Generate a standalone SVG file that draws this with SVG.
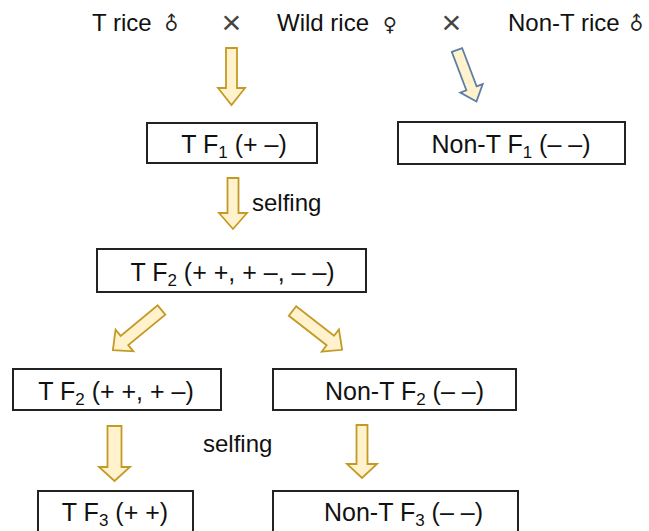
<svg xmlns="http://www.w3.org/2000/svg" width="649" height="531" viewBox="0 0 649 531">
  <style>
    .t { font-family: "Liberation Sans", Arial, sans-serif; font-size: 24px; fill: #111; }
    .bt { font-family: "Liberation Sans", Arial, sans-serif; font-size: 25px; fill: #111; }
    .sym { font-family: "DejaVu Sans", sans-serif; font-size: 19px; fill: #222; }
    .x { font-family: "Liberation Sans", Arial, sans-serif; font-size: 34px; fill: #444; }
    .box { fill: #fff; stroke: #222; stroke-width: 2; }
    .arr { fill: #FFF2CC; stroke: #C49A26; stroke-width: 1.8; stroke-linejoin: miter; }
    .arr-b { fill: #FFF2CC; stroke: #5B7FA8; stroke-width: 1.8; stroke-linejoin: miter; }
  </style>
  <rect width="649" height="531" fill="#fff"/>

  <!-- cross parents -->
  <g id="parents">
    <text class="t" x="92" y="31">T rice</text>
    <text class="sym" transform="translate(171,23) rotate(-45)" text-anchor="middle" dominant-baseline="central">♂</text>
    <text class="x" x="231.5" y="34" text-anchor="middle">×</text>
    <text class="t" x="277" y="31">Wild rice</text>
    <text class="sym" x="390" y="31" text-anchor="middle">♀</text>
    <text class="x" x="451.5" y="34" text-anchor="middle">×</text>
    <text class="t" x="508" y="31">Non-T rice</text>
    <text class="sym" transform="translate(636,23) rotate(-45)" text-anchor="middle" dominant-baseline="central">♂</text>
  </g>

  <!-- connectors: block arrows -->
  <g id="connectors">
    <path class="arr" transform="translate(231.5,48)" d="M-5.5,0 H5.5 V40 H13.5 L0,57 L-13.5,40 H-5.5 Z"/>
    <path class="arr-b" transform="translate(457,50) rotate(-20.7)" d="M-5.5,0 H5.5 V41 H12 L0,55 L-12,41 H-5.5 Z"/>
    <path class="arr" transform="translate(233,178)" d="M-5.5,0 H5.5 V35 H14 L0,51 L-14,35 H-5.5 Z"/>
    <path class="arr" transform="translate(161.5,310) rotate(50.5)" d="M-6,0 H6 V48 H14 L0,63 L-14,48 H-6 Z"/>
    <path class="arr" transform="translate(292.5,311) rotate(-52)" d="M-6,0 H6 V48 H14 L0,63 L-14,48 H-6 Z"/>
    <path class="arr" transform="translate(114.5,426)" d="M-7,0 H7 V41 H15.5 L0,55 L-15.5,41 H-7 Z"/>
    <path class="arr" transform="translate(362,425)" d="M-5.5,0 H5.5 V39 H15 L0,53 L-15,39 H-5.5 Z"/>
    <text class="t" x="252" y="211">selfing</text>
    <text class="t" x="203" y="452">selfing</text>
  </g>

  <g id="tf1">
    <rect class="box" x="147" y="123" width="170" height="40"/>
    <text class="bt" x="234" y="153" text-anchor="middle">T F<tspan font-size="17" dy="5">1</tspan><tspan dy="-5"> (+ –)</tspan></text>
  </g>

  <g id="nontf1">
    <rect class="box" x="398" y="122" width="227" height="42"/>
    <text class="bt" x="511" y="153" text-anchor="middle">Non-T F<tspan font-size="17" dy="5">1</tspan><tspan dy="-5"> (– –)</tspan></text>
  </g>

  <g id="tf2">
    <rect class="box" x="97" y="249" width="269" height="43"/>
    <text class="bt" x="232.5" y="281" text-anchor="middle">T F<tspan font-size="17" dy="5">2</tspan><tspan dy="-5"> (+ +, + –, – –)</tspan></text>
  </g>

  <g id="tf2-sel">
    <rect class="box" x="13" y="369" width="208" height="41"/>
    <text class="bt" x="116" y="400" text-anchor="middle">T F<tspan font-size="17" dy="5">2</tspan><tspan dy="-5"> (+ +, + –)</tspan></text>
  </g>

  <g id="nontf2">
    <rect class="box" x="273" y="369" width="243" height="41"/>
    <text class="bt" x="404.5" y="400" text-anchor="middle">Non-T F<tspan font-size="17" dy="5">2</tspan><tspan dy="-5"> (– –)</tspan></text>
  </g>

  <g id="tf3">
    <rect class="box" x="38" y="491" width="155" height="50"/>
    <text class="bt" x="115" y="521" text-anchor="middle">T F<tspan font-size="17" dy="5">3</tspan><tspan dy="-5"> (+ +)</tspan></text>
  </g>

  <g id="nontf3">
    <rect class="box" x="273" y="491" width="245" height="50"/>
    <text class="bt" x="403.5" y="521" text-anchor="middle">Non-T F<tspan font-size="17" dy="5">3</tspan><tspan dy="-5"> (– –)</tspan></text>
  </g>
</svg>
